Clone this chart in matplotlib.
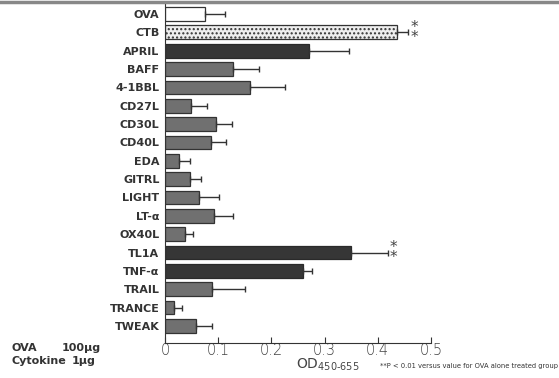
import numpy as np
import matplotlib
matplotlib.use('Agg')
import matplotlib.pyplot as plt

# OD values
cytokines = ['OVA', 'CTB', 'APRIL', 'BAFF', '4-1BBL', 'CD27L', 'CD30L', 'CD40L',
             'EDA', 'GITRL', 'LIGHT', 'LT-α', 'OX40L', 'TL1A', 'TNF-α', 'TRAIL',
             'TRANCE', 'TWEAK']
od_mean = [0.075, 0.436, 0.270, 0.128, 0.159, 0.049, 0.096, 0.087,
           0.027, 0.047, 0.064, 0.093, 0.037, 0.349, 0.260, 0.088,
           0.017, 0.058]
od_sem = [0.038, 0.021, 0.075, 0.048, 0.067, 0.030, 0.030, 0.028,
          0.020, 0.021, 0.038, 0.035, 0.015, 0.070, 0.017, 0.063,
          0.015, 0.031]
significant = ['CTB', 'TL1A']
dark_group = ['APRIL', 'TL1A', 'TNF-α']

fig = plt.figure(figsize=(5.59, 3.78), dpi=100)
ax = fig.add_axes([165 / 559, 1 - 343 / 378, 266 / 559, 340 / 378])

y = np.arange(len(cytokines))
for i, name in enumerate(cytokines):
    if name == 'OVA':
        ax.barh(i, od_mean[i], height=0.75, color='white', edgecolor='#333333', linewidth=0.9)
    elif name == 'CTB':
        ax.barh(i, od_mean[i], height=0.75, color='#eeeeee', edgecolor='#333333',
                hatch='....', linewidth=0.9)
    elif name in dark_group:
        ax.barh(i, od_mean[i], height=0.75, color='#363636', edgecolor='#2a2a2a', linewidth=0.9)
    else:
        ax.barh(i, od_mean[i], height=0.75, color='#707070', edgecolor='#333333', linewidth=0.9)

ax.errorbar(od_mean, y, xerr=[np.zeros(len(y)), od_sem], fmt='none',
            ecolor='#333333', elinewidth=1.0, capsize=2.5, capthick=1.0)

for i, name in enumerate(cytokines):
    if name in significant:
        ax.text(od_mean[i] + od_sem[i] + 0.004, i, '*\n*', ha='left', va='center',
                fontsize=11, linespacing=0.55, color='#444444')

ax.set_xlim(0, 0.5)
ax.set_ylim(len(cytokines) - 1 + 0.93, -0.6)
ax.set_yticks(y)
ax.set_yticklabels(cytokines, fontsize=8, fontweight='bold', color='#333333')
ax.tick_params(axis='y', length=0, pad=4)
ax.set_xticks([0, 0.1, 0.2, 0.3, 0.4, 0.5])
ax.set_xticklabels(['0', '0.1', '0.2', '0.3', '0.4', '0.5'])
ax.tick_params(axis='x', direction='in', length=4, labelsize=10.5, labelcolor='#444444',
               color='#333333', pad=0)
for lbl in ax.get_xticklabels():
    lbl.set_fontweight('light')
ax.spines['top'].set_visible(False)
ax.spines['right'].set_visible(False)
ax.spines['left'].set_color('#333333')
ax.spines['bottom'].set_color('#333333')

fig.text(328 / 559, 1 - 369 / 378, 'OD$_{450\\text{-}655}$', fontsize=10, color='#444444',
         ha='center', va='baseline')

fig.text(380 / 559, 1 - 366 / 378, '**P < 0.01 versus value for OVA alone treated group',
         fontsize=4.9, color='#333333', va='center')
fig.text(12 / 559, 1 - 348 / 378, 'OVA', fontsize=8, fontweight='bold', color='#333333', va='center')
fig.text(62 / 559, 1 - 348 / 378, '100μg', fontsize=8, fontweight='bold', color='#333333', va='center')
fig.text(12 / 559, 1 - 361 / 378, 'Cytokine', fontsize=8, fontweight='bold', color='#333333', va='center')
fig.text(72 / 559, 1 - 361 / 378, '1μg', fontsize=8, fontweight='bold', color='#333333', va='center')

# grey border line along the top
fig.add_artist(plt.Line2D([0, 1], [0.996, 0.996], color='#888888', linewidth=2.5,
                          transform=fig.transFigure))

fig.savefig('out.png', dpi=100)
